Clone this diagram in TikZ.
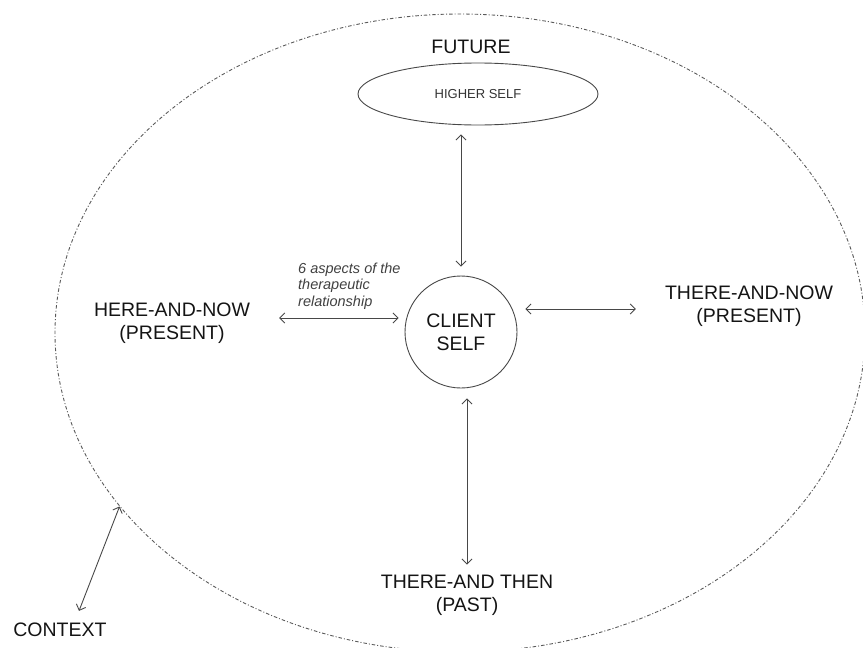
\documentclass[tikz,border=0pt]{standalone}
\usepackage{fontspec}
\setmainfont{Liberation Sans}
\usetikzlibrary{shapes.geometric, arrows.meta}

\definecolor{inkgray}{HTML}{141414}
\definecolor{softgray}{HTML}{333333}
\definecolor{notegray}{HTML}{404040}
\definecolor{linegray}{HTML}{484848}
\definecolor{ringgray}{HTML}{5A5A5A}

\begin{document}
\begin{tikzpicture}[x=1pt, y=-1pt,
  big/.style={font=\fontsize{19.5}{23}\selectfont, text=inkgray, inner sep=0pt, align=center},
  link/.style={draw=linegray, line width=0.9pt,
    {Straight Barb[length=5pt,width=10pt]}-{Straight Barb[length=5pt,width=10pt]}}]

  \useasboundingbox (0,0) rectangle (863,648);

  % outer context ring
  \node[ellipse, draw=ringgray, line width=0.9pt,
        dash pattern=on 3.5pt off 2pt on 1pt off 2pt,
        minimum width=810pt, minimum height=638pt, inner sep=0pt] (ring) at (460,333) {};

  % future / higher self
  \node[big] (future) at (471,46.5) {FUTURE};
  \node[ellipse, draw=linegray, line width=0.9pt, minimum width=240pt, minimum height=62pt,
        inner sep=0pt, font=\fontsize{13}{15}\selectfont, text=softgray] (higher) at (478,94) {HIGHER SELF};

  % client in the middle
  \node[circle, draw=linegray, line width=0.9pt, minimum size=112pt, big] (client) at (461,332) {CLIENT\\SELF};

  % the other fields
  \node[big] (here) at (172,323) {HERE-AND-NOW\\(PRESENT)};
  \node[big] (there) at (749,306.5) {THERE-AND-NOW\\(PRESENT)};
  \node[big] (then) at (467,595) {THERE-AND THEN\\(PAST)};
  \node[big] (context) at (60,630) {CONTEXT};

  \node[anchor=west, align=left, inner sep=0pt, text=notegray,
        font=\fontsize{14.5}{16.5}\selectfont\itshape] (aspects) at (298,286) {6 aspects of the\\therapeutic\\relationship};

  % connectors
  \draw[link, shorten <=9pt, shorten >=9pt] (client.north |- higher.south) -- (client.north);
  \draw[link] ([xshift=29pt,yshift=5pt]here.east) -- ([xshift=-6pt,yshift=14pt]client.west);
  \draw[link] ([xshift=8pt,yshift=23pt]client.east) -- ([xshift=-29pt,yshift=-2.5pt]there.west);
  \draw[link, shorten <=10pt, shorten >=10pt] (then.north) -- (then.north |- client.south);
  \draw[link] ([xshift=19pt,yshift=12pt]context.north) -- (ring.207.6);

\end{tikzpicture}
\end{document}
